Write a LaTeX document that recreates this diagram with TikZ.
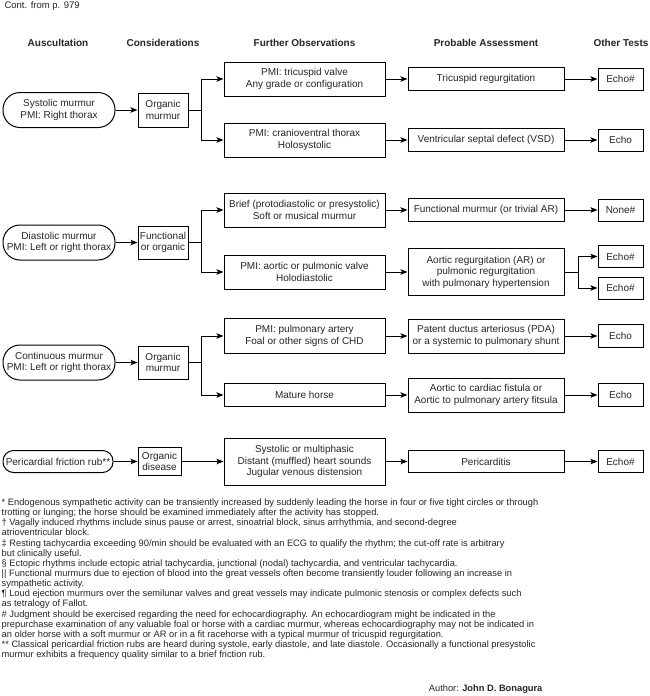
\documentclass[tikz,border=0pt]{standalone}
\usepackage{fontspec}
\setmainfont{Liberation Sans}
\usetikzlibrary{arrows.meta}
\tikzset{
  > = {Stealth[length = 7pt, width = 5.5pt, inset = 1.5pt]},
  box/.style = {draw, line width = 1pt, inner sep = 1pt, align = center,
    text = black!85, font = \fontsize{10}{11.5}\selectfont},
  finding/.style = {box, rounded corners = 17pt, minimum width = 112pt, minimum height = 35pt},
  consider/.style = {box, minimum width = 50pt, minimum height = 34pt},
  observe/.style = {box, minimum width = 161pt, minimum height = 34pt},
  assess/.style = {box, minimum width = 156pt, minimum height = 23pt},
  testbox/.style = {box, minimum width = 45pt, minimum height = 22pt},
  heading/.style = {text = black!85, font = \fontsize{10}{12}\selectfont\bfseries},
  link/.style = {->, line width = 1pt},
  notes/.style = {align = left, inner sep = 0pt, text = black!85,
    font = \fontsize{9.3}{10.15}\selectfont}
}

\begin{document}
\begin{tikzpicture}[x = 1pt, y = -1pt]

\path [fill = white] (0,0) rectangle (650,696);
\useasboundingbox (0,0) rectangle (650,696);

\node [anchor = west, text = black!85, font = \fontsize{9.5}{11}\selectfont] (cont) at (1,6) {Cont. from p. 979};

\node [heading] (h1) at (58,43) {Auscultation};
\node [heading] (h2) at (163,43) {Considerations};
\node [heading] (h3) at (304.5,43) {Further Observations};
\node [heading] (h4) at (486,43) {Probable Assessment};
\node [heading] (h5) at (621,43) {Other Tests};

% systolic
\node [finding] (sys) at (59,110) {Systolic murmur\\PMI: Right thorax};
\node [consider] (org1) at (163,110) {Organic\\murmur};
\node [observe] (obs1) at (304.5,79) {PMI: tricuspid valve\\Any grade or configuration};
\node [observe] (obs2) at (304.5,140) {PMI: cranioventral thorax\\Holosystolic};
\node [assess] (ass1) at (486,79) {Tricuspid regurgitation};
\node [assess] (ass2) at (486,140) {Ventricular septal defect (VSD)};
\node [testbox] (tst1) at (620.5,79) {Echo\#};
\node [testbox] (tst2) at (620.5,140) {Echo};

% diastolic
\node [finding] (dia) at (59,242.5) {Diastolic murmur\\PMI: Left or right thorax};
\node [consider, minimum height = 33pt] (fun) at (163,242.5) {Functional\\or organic};
\node [observe] (obs3) at (304.5,210) {Brief (protodiastolic or presystolic)\\Soft or musical murmur};
\node [observe] (obs4) at (304.5,272) {PMI: aortic or pulmonic valve\\Holodiastolic};
\node [assess] (ass3) at (486,210) {Functional murmur (or trivial AR)};
\node [assess, minimum height = 47pt] (ass4) at (486,272) {Aortic regurgitation (AR) or\\pulmonic regurgitation\\with pulmonary hypertension};
\node [testbox] (tst3) at (620.5,210) {None\#};
\node [testbox] (tst4) at (620.5,256.5) {Echo\#};
\node [testbox] (tst5) at (620.5,288) {Echo\#};

% continuous
\node [finding] (con) at (59,362.5) {Continuous murmur\\PMI: Left or right thorax};
\node [consider, minimum height = 33pt] (org3) at (163,362.5) {Organic\\murmur};
\node [observe, minimum height = 35pt] (obs5) at (304.5,336) {PMI: pulmonary artery\\Foal or other signs of CHD};
\node [observe, minimum height = 23pt] (obs6) at (304.5,395) {Mature horse};
\node [assess, minimum height = 34pt] (ass5) at (486,336) {Patent ductus arteriosus (PDA)\\or a systemic to pulmonary shunt};
\node [assess, minimum height = 34pt] (ass6) at (486,395) {Aortic to cardiac fistula or\\Aortic to pulmonary artery fitsula};
\node [testbox, minimum height = 23pt] (tst6) at (620.5,336) {Echo};
\node [testbox, minimum height = 23pt] (tst7) at (620.5,395) {Echo};

% pericardial
\node [finding, rounded corners = 10.5pt, minimum width = 110pt, minimum height = 22pt] (per) at (58,461.5) {Pericardial friction rub**};
\node [consider, minimum width = 43pt, minimum height = 28pt] (org4) at (159.5,461.5) {Organic\\disease};
\node [observe, minimum height = 47pt] (obs7) at (304.5,461.5) {Systolic or multiphasic\\Distant (muffled) heart sounds\\Jugular venous distension};
\node [assess, minimum height = 22pt] (ass7) at (486,461.5) {Pericarditis};
\node [testbox] (tst8) at (620.5,461.5) {Echo\#};

\coordinate (b1) at (201,110);
\coordinate (b2) at (201,242.5);
\coordinate (b3) at (201,362.5);
\coordinate (b4) at (578,272);

\draw [link] (sys) -- (org1);
\draw [link] (org1) -- (b1) |- (obs1);
\draw [link] (b1) |- (obs2);
\draw [link] (obs1) -- (ass1);
\draw [link] (obs2) -- (ass2);
\draw [link] (ass1) -- (tst1);
\draw [link] (ass2) -- (tst2);

\draw [link] (dia) -- (fun);
\draw [link] (fun) -- (b2) |- (obs3);
\draw [link] (b2) |- (obs4);
\draw [link] (obs3) -- (ass3);
\draw [link] (obs4) -- (ass4);
\draw [link] (ass3) -- (tst3);
\draw [link] (ass4) -- (b4) |- (tst4);
\draw [link] (b4) |- (tst5);

\draw [link] (con) -- (org3);
\draw [link] (org3) -- (b3) |- (obs5);
\draw [link] (b3) |- (obs6);
\draw [link] (obs5) -- (ass5);
\draw [link] (obs6) -- (ass6);
\draw [link] (ass5) -- (tst6);
\draw [link] (ass6) -- (tst7);

\draw [link] (per) -- (org4);
\draw [link] (org4) -- (obs7);
\draw [link] (obs7) -- (ass7);
\draw [link] (ass7) -- (tst8);

\node [notes, anchor = north west] (notes) at (1.5,498.5) {%
* Endogenous sympathetic activity can be transiently increased by suddenly leading the horse in four or five tight circles or through\\
trotting or lunging; the horse should be examined immediately after the activity has stopped.\\
† Vagally induced rhythms include sinus pause or arrest, sinoatrial block, sinus arrhythmia, and second-degree\\
atrioventricular block.\\
‡ Resting tachycardia exceeding 90/min should be evaluated with an ECG to qualify the rhythm; the cut-off rate is arbitrary\\
but clinically useful.\\
§ Ectopic rhythms include ectopic atrial tachycardia, junctional (nodal) tachycardia, and ventricular tachycardia.\\
|| Functional murmurs due to ejection of blood into the great vessels often become transiently louder following an increase in\\
sympathetic activity.\\
¶ Loud ejection murmurs over the semilunar valves and great vessels may indicate pulmonic stenosis or complex defects such\\
as tetralogy of Fallot.\\
\# Judgment should be exercised regarding the need for echocardiography. An echocardiogram might be indicated in the\\
prepurchase examination of any valuable foal or horse with a cardiac murmur, whereas echocardiography may not be indicated in\\
an older horse with a soft murmur or AR or in a fit racehorse with a typical murmur of tricuspid regurgitation.\\
** Classical pericardial friction rubs are heard during systole, early diastole, and late diastole. Occasionally a functional presystolic\\
murmur exhibits a frequency quality similar to a brief friction rub.};

\node [anchor = east, text = black!85, font = \fontsize{9.3}{11}\selectfont] (author) at (546,689) {Author: \textbf{John D. Bonagura}};

\end{tikzpicture}
\end{document}
